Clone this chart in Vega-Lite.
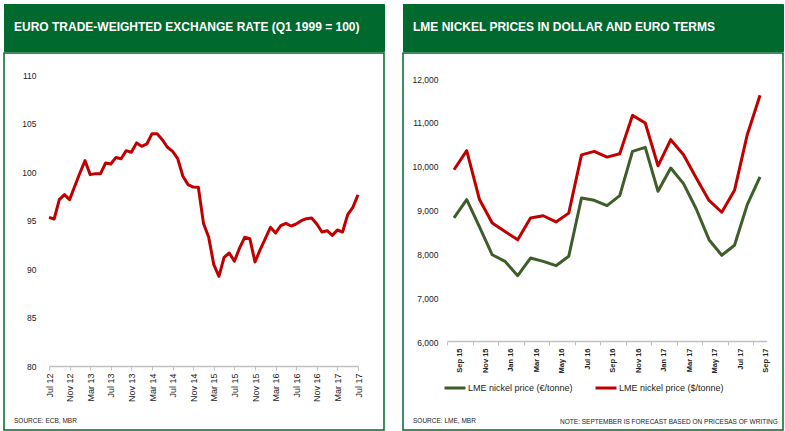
{
  "$schema": "https://vega.github.io/schema/vega-lite/v6.json",
  "padding": {"left": 3, "top": 3, "right": 0, "bottom": 0},
  "background": "white",
  "spacing": 17,
  "resolve": {"scale": {"color": "independent"}, "legend": {"color": "independent"}},
  "config": {
    "view": {"stroke": null},
    "axis": {"grid": false, "title": null},
    "font": "Liberation Sans"
  },
  "hconcat": [
    {
      "spacing": 0,
      "vconcat": [
        {
          "width": 380,
          "height": 47,
          "view": {"fill": "#00692e", "stroke": "#00692e"},
          "title": {"text": "EURO TRADE-WEIGHTED EXCHANGE RATE (Q1 1999 = 100)", "orient": "top", "anchor": "start", "offset": -30, "dx": 10, "color": "white", "font": "Liberation Sans", "fontWeight": "bold", "fontSize": 12},
          "data": {"values": [{"k": 1}]},
          "mark": {"type": "rect", "color": "#00692e"},
          "encoding": {}
        },
        {
          "width": 380,
          "height": 377,
          "view": {"stroke": "#00692e", "strokeWidth": 1.5, "fill": "white"},
          "title": {"text": "SOURCE: ECB, MBR", "orient": "bottom", "anchor": "start", "offset": -12, "dx": 10, "color": "#222222", "font": "Liberation Sans", "fontWeight": "normal", "fontSize": 6.5},
          "data": {"values": [
            {"month": "Jul 12", "value": 95.33}, {"month": "Aug 12", "value": 95.15}, {"month": "Sep 12", "value": 97.15}, {"month": "Oct 12", "value": 97.66},
            {"month": "Nov 12", "value": 97.15}, {"month": "Dec 12", "value": 98.53}, {"month": "Jan 13", "value": 99.9}, {"month": "Feb 13", "value": 101.17},
            {"month": "Mar 13", "value": 99.73}, {"month": "Apr 13", "value": 99.83}, {"month": "May 13", "value": 99.83}, {"month": "Jun 13", "value": 100.93},
            {"month": "Jul 13", "value": 100.82}, {"month": "Aug 13", "value": 101.5}, {"month": "Sep 13", "value": 101.37}, {"month": "Oct 13", "value": 102.2},
            {"month": "Nov 13", "value": 102.03}, {"month": "Dec 13", "value": 103.0}, {"month": "Jan 14", "value": 102.65}, {"month": "Feb 14", "value": 102.89},
            {"month": "Mar 14", "value": 103.95}, {"month": "Apr 14", "value": 103.95}, {"month": "May 14", "value": 103.33}, {"month": "Jun 14", "value": 102.55},
            {"month": "Jul 14", "value": 102.13}, {"month": "Aug 14", "value": 101.37}, {"month": "Sep 14", "value": 99.56}, {"month": "Oct 14", "value": 98.7},
            {"month": "Nov 14", "value": 98.45}, {"month": "Dec 14", "value": 98.42}, {"month": "Jan 15", "value": 94.7}, {"month": "Feb 15", "value": 93.3},
            {"month": "Mar 15", "value": 90.45}, {"month": "Apr 15", "value": 89.25}, {"month": "May 15", "value": 91.2}, {"month": "Jun 15", "value": 91.65},
            {"month": "Jul 15", "value": 90.8}, {"month": "Aug 15", "value": 92.16}, {"month": "Sep 15", "value": 93.27}, {"month": "Oct 15", "value": 93.13},
            {"month": "Nov 15", "value": 90.72}, {"month": "Dec 15", "value": 91.99}, {"month": "Jan 16", "value": 93.13}, {"month": "Feb 16", "value": 94.3},
            {"month": "Mar 16", "value": 93.71}, {"month": "Apr 16", "value": 94.47}, {"month": "May 16", "value": 94.71}, {"month": "Jun 16", "value": 94.43},
            {"month": "Jul 16", "value": 94.64}, {"month": "Aug 16", "value": 94.98}, {"month": "Sep 16", "value": 95.19}, {"month": "Oct 16", "value": 95.26},
            {"month": "Nov 16", "value": 94.64}, {"month": "Dec 16", "value": 93.81}, {"month": "Jan 17", "value": 93.95}, {"month": "Feb 17", "value": 93.47},
            {"month": "Mar 17", "value": 94.02}, {"month": "Apr 17", "value": 93.81}, {"month": "May 17", "value": 95.6}, {"month": "Jun 17", "value": 96.36},
            {"month": "Jul 17", "value": 97.66}
          ]},
          "mark": {"type": "line", "color": "#c00000", "strokeWidth": 3, "strokeJoin": "round"},
          "encoding": {
            "x": {
              "field": "month", "type": "ordinal", "sort": null,
              "scale": {"type": "point", "range": [45, 354], "padding": 0},
              "axis": {
                "orient": "bottom", "offset": -64,
                "values": ["Jul 12", "Nov 12", "Mar 13", "Jul 13", "Nov 13", "Mar 14", "Jul 14", "Nov 14", "Mar 15", "Jul 15", "Nov 15", "Mar 16", "Jul 16", "Nov 16", "Mar 17", "Jul 17"],
                "labelAngle": -90, "labelFont": "Liberation Sans", "labelFontSize": 9, "labelColor": "#222222", "labelPadding": 3,
                "domainColor": "#c0c0c0", "domainWidth": 1.5, "tickColor": "#c0c0c0", "tickSize": 4, "tickWidth": 1
              }
            },
            "y": {
              "field": "value", "type": "quantitative",
              "scale": {"domain": [80, 110], "range": [313, 22], "nice": false, "zero": false},
              "axis": {
                "orient": "left", "offset": -32, "values": [80, 85, 90, 95, 100, 105, 110],
                "domain": false, "ticks": false, "tickSize": 0, "labelPadding": 0,
                "labelFont": "Liberation Sans", "labelFontSize": 8.5, "labelColor": "#222222"
              }
            }
          }
        }
      ]
    },
    {
      "spacing": 0,
      "resolve": {"scale": {"color": "independent"}, "legend": {"color": "independent"}},
      "title": {"text": "NOTE: SEPTEMBER IS FORECAST BASED ON PRICESAS OF WRITING", "orient": "bottom", "anchor": "end", "offset": -12, "dx": -6, "color": "#222222", "font": "Liberation Sans", "fontWeight": "normal", "fontSize": 6.5},
      "vconcat": [
        {
          "width": 380,
          "height": 47,
          "view": {"fill": "#00692e", "stroke": "#00692e"},
          "title": {"text": "LME NICKEL PRICES IN DOLLAR AND EURO TERMS", "orient": "top", "anchor": "start", "offset": -30, "dx": 10, "color": "white", "font": "Liberation Sans", "fontWeight": "bold", "fontSize": 12},
          "data": {"values": [{"k": 1}]},
          "mark": {"type": "rect", "color": "#00692e"},
          "encoding": {}
        },
        {
          "width": 380,
          "height": 377,
          "view": {"stroke": "#00692e", "strokeWidth": 1.5, "fill": "white"},
          "title": {"text": "SOURCE: LME, MBR", "orient": "bottom", "anchor": "start", "offset": -12, "dx": 10, "color": "#222222", "font": "Liberation Sans", "fontWeight": "normal", "fontSize": 6.5},
          "data": {"values": [
            {"month": "Sep 15", "series": "LME nickel price (€/tonne)", "value": 8830},
            {"month": "Oct 15", "series": "LME nickel price (€/tonne)", "value": 9247},
            {"month": "Nov 15", "series": "LME nickel price (€/tonne)", "value": 8624},
            {"month": "Dec 15", "series": "LME nickel price (€/tonne)", "value": 7990},
            {"month": "Jan 16", "series": "LME nickel price (€/tonne)", "value": 7840},
            {"month": "Feb 16", "series": "LME nickel price (€/tonne)", "value": 7513},
            {"month": "Mar 16", "series": "LME nickel price (€/tonne)", "value": 7916},
            {"month": "Apr 16", "series": "LME nickel price (€/tonne)", "value": 7840},
            {"month": "May 16", "series": "LME nickel price (€/tonne)", "value": 7741},
            {"month": "Jun 16", "series": "LME nickel price (€/tonne)", "value": 7955},
            {"month": "Jul 16", "series": "LME nickel price (€/tonne)", "value": 9285},
            {"month": "Aug 16", "series": "LME nickel price (€/tonne)", "value": 9232},
            {"month": "Sep 16", "series": "LME nickel price (€/tonne)", "value": 9110},
            {"month": "Oct 16", "series": "LME nickel price (€/tonne)", "value": 9338},
            {"month": "Nov 16", "series": "LME nickel price (€/tonne)", "value": 10350},
            {"month": "Dec 16", "series": "LME nickel price (€/tonne)", "value": 10440},
            {"month": "Jan 17", "series": "LME nickel price (€/tonne)", "value": 9438},
            {"month": "Feb 17", "series": "LME nickel price (€/tonne)", "value": 9970},
            {"month": "Mar 17", "series": "LME nickel price (€/tonne)", "value": 9612},
            {"month": "Apr 17", "series": "LME nickel price (€/tonne)", "value": 9034},
            {"month": "May 17", "series": "LME nickel price (€/tonne)", "value": 8334},
            {"month": "Jun 17", "series": "LME nickel price (€/tonne)", "value": 7978},
            {"month": "Jul 17", "series": "LME nickel price (€/tonne)", "value": 8206},
            {"month": "Aug 17", "series": "LME nickel price (€/tonne)", "value": 9133},
            {"month": "Sep 17", "series": "LME nickel price (€/tonne)", "value": 9765},
            {"month": "Sep 15", "series": "LME nickel price ($/tonne)", "value": 9930},
            {"month": "Oct 15", "series": "LME nickel price ($/tonne)", "value": 10365},
            {"month": "Nov 15", "series": "LME nickel price ($/tonne)", "value": 9250},
            {"month": "Dec 15", "series": "LME nickel price ($/tonne)", "value": 8715},
            {"month": "Jan 16", "series": "LME nickel price ($/tonne)", "value": 8520},
            {"month": "Feb 16", "series": "LME nickel price ($/tonne)", "value": 8330},
            {"month": "Mar 16", "series": "LME nickel price ($/tonne)", "value": 8830},
            {"month": "Apr 16", "series": "LME nickel price ($/tonne)", "value": 8880},
            {"month": "May 16", "series": "LME nickel price ($/tonne)", "value": 8740},
            {"month": "Jun 16", "series": "LME nickel price ($/tonne)", "value": 8940},
            {"month": "Jul 16", "series": "LME nickel price ($/tonne)", "value": 10270},
            {"month": "Aug 16", "series": "LME nickel price ($/tonne)", "value": 10350},
            {"month": "Sep 16", "series": "LME nickel price ($/tonne)", "value": 10218},
            {"month": "Oct 16", "series": "LME nickel price ($/tonne)", "value": 10296},
            {"month": "Nov 16", "series": "LME nickel price ($/tonne)", "value": 11170},
            {"month": "Dec 16", "series": "LME nickel price ($/tonne)", "value": 10997},
            {"month": "Jan 17", "series": "LME nickel price ($/tonne)", "value": 10020},
            {"month": "Feb 17", "series": "LME nickel price ($/tonne)", "value": 10616},
            {"month": "Mar 17", "series": "LME nickel price ($/tonne)", "value": 10270},
            {"month": "Apr 17", "series": "LME nickel price ($/tonne)", "value": 9740},
            {"month": "May 17", "series": "LME nickel price ($/tonne)", "value": 9230},
            {"month": "Jun 17", "series": "LME nickel price ($/tonne)", "value": 8960},
            {"month": "Jul 17", "series": "LME nickel price ($/tonne)", "value": 9460},
            {"month": "Aug 17", "series": "LME nickel price ($/tonne)", "value": 10730},
            {"month": "Sep 17", "series": "LME nickel price ($/tonne)", "value": 11630}
          ]},
          "mark": {"type": "line", "strokeWidth": 3, "strokeJoin": "round"},
          "encoding": {
            "x": {
              "field": "month", "type": "ordinal", "sort": null,
              "scale": {"type": "band", "range": [44.6, 363.4], "paddingInner": 0, "paddingOuter": 0},
              "axis": {
                "orient": "bottom", "offset": -89, "bandPosition": 0, "labelOffset": 6.375,
                "values": ["Sep 15", "Nov 15", "Jan 16", "Mar 16", "May 16", "Jul 16", "Sep 16", "Nov 16", "Jan 17", "Mar 17", "May 17", "Jul 17", "Sep 17"],
                "labelAngle": -90, "labelFont": "Liberation Sans", "labelFontSize": 7.5, "labelFontWeight": "bold", "labelColor": "#222222", "labelPadding": 3,
                "domainColor": "#c0c0c0", "domainWidth": 1.5, "tickColor": "#c0c0c0", "tickSize": 4, "tickWidth": 1
              }
            },
            "y": {
              "field": "value", "type": "quantitative",
              "scale": {"domain": [6000, 12000], "range": [289, 26], "nice": false, "zero": false},
              "axis": {
                "orient": "left", "offset": -35, "values": [6000, 7000, 8000, 9000, 10000, 11000, 12000], "format": ",.0f",
                "domain": false, "ticks": false, "tickSize": 0, "labelPadding": 0,
                "labelFont": "Liberation Sans", "labelFontSize": 8.5, "labelColor": "#222222"
              }
            },
            "color": {
              "field": "series", "type": "nominal",
              "scale": {"domain": ["LME nickel price (€/tonne)", "LME nickel price ($/tonne)"], "range": ["#3d5e29", "#c00000"]},
              "legend": {
                "orient": "none", "legendX": 40, "legendY": 323, "direction": "horizontal", "title": null,
                "symbolType": "stroke", "symbolStrokeWidth": 3, "symbolSize": 440,
                "labelFont": "Liberation Sans", "labelFontSize": 9, "labelColor": "#222222", "labelOffset": 1, "columnPadding": 16
              }
            }
          }
        }
      ]
    }
  ]
}
